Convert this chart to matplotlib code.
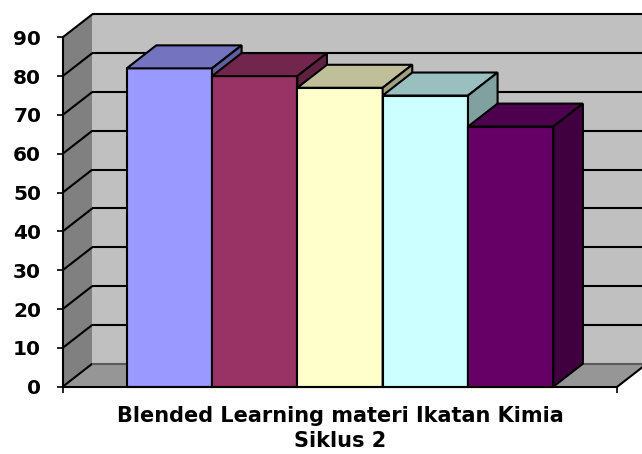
import matplotlib
matplotlib.use("Agg")
import matplotlib.pyplot as plt
from matplotlib.patches import Polygon

# ---- data ----
series = ["Seri 1", "Seri 2", "Seri 3", "Seri 4", "Seri 5"]
values = [82, 80, 77, 75, 67]
colors = ["#9999FF", "#993366", "#FFFFCC", "#CCFFFF", "#660066"]
yticks = [0, 10, 20, 30, 40, 50, 60, 70, 80, 90]
xlabel = "Blended Learning materi Ikatan Kimia\nSiklus 2"

plt.rcParams['font.family'] = ['DejaVu Sans']

W, H = 642, 454
fig = plt.figure(figsize=(W / 100, H / 100), dpi=100)
fig.patch.set_facecolor("white")

ax_l, ax_r, ax_b, ax_t = 62.7, 617.3, 386.7, 37.3
ax = fig.add_axes([ax_l / W, (H - ax_b) / H, (ax_r - ax_l) / W, (ax_b - ax_t) / H])
ax.set_xlim(0, 1)
ax.set_ylim(0, 90)
ax.patch.set_visible(False)

# depth offset (pixels -> data units)
DX_PX, DY_PX = 29.6, 23.0
dx = DX_PX / (ax_r - ax_l)
dy = DY_PX / (ax_b - ax_t) * 90
ymax = yticks[-1]


def shade(c, f):
    r, g, b = matplotlib.colors.to_rgb(c)
    return (r * f, g * f, b * f)


def poly(pts, fc, ec="none", lw=0, z=0):
    p = Polygon(pts, closed=True, facecolor=fc, edgecolor=ec, linewidth=lw,
                zorder=z, clip_on=False, joinstyle="miter")
    ax.add_patch(p)


# walls and floor
poly([(0, 0), (0, ymax), (dx, ymax + dy), (dx, dy)], "#808080", z=0.1)
poly([(dx, dy), (dx, ymax + dy), (1 + dx, ymax + dy), (1 + dx, dy)], "#C0C0C0", z=0.1)
poly([(0, 0), (1, 0), (1 + dx, dy), (dx, dy)], "#969696", z=0.1)

# gridlines
for v in yticks:
    col = "black" if v > 0 else "#5a5a5a"
    ax.plot([0, dx], [v, v + dy], color="black", lw=1.5, zorder=0.5, clip_on=False,
            solid_capstyle="butt")
    ax.plot([dx, 1 + dx], [v + dy, v + dy], color=col, lw=1.5, zorder=0.5,
            clip_on=False, solid_capstyle="butt")
ax.plot([1, 1 + dx], [0, dy], color="black", lw=1.5, zorder=0.5, clip_on=False)

# bars (gap width 150%)
n = len(values)
w = 1 / (n + 1.5)
x0 = 0.75 * w
for i, (v, c) in enumerate(zip(values, colors)):
    xl = x0 + i * w
    z = 3 + i
    ax.bar(xl, v, width=w, align="edge", color=c, edgecolor="black",
           linewidth=1.5, zorder=z, clip_on=False)
    poly([(xl, v), (xl + w, v), (xl + w + dx, v + dy), (xl + dx, v + dy)],
         shade(c, 0.75), ec="black", lw=1.5, z=z + 0.1)
    poly([(xl + w, 0), (xl + w + dx, dy), (xl + w + dx, v + dy), (xl + w, v)],
         shade(c, 0.63), ec="black", lw=1.5, z=z + 0.2)

# axes styling
for s in ["top", "right"]:
    ax.spines[s].set_visible(False)
for s in ["left", "bottom"]:
    ax.spines[s].set_linewidth(1.5)
    ax.spines[s].set_zorder(10)
ax.set_yticks(yticks)
ax.set_yticklabels([str(t) for t in yticks], fontsize=14.5, fontweight="bold")
ax.tick_params(axis="y", direction="out", length=4.5, width=1.2, pad=11)
ax.set_xticks([0, 1])
ax.set_xticklabels(["", ""])
ax.tick_params(axis="x", direction="out", length=4.5, width=1.2)

fig.text(340 / W, 1 - 406 / H, xlabel, ha="center", va="top", fontsize=15,
         fontweight="bold", linespacing=1.3)

fig.savefig("out.png", dpi=100)
